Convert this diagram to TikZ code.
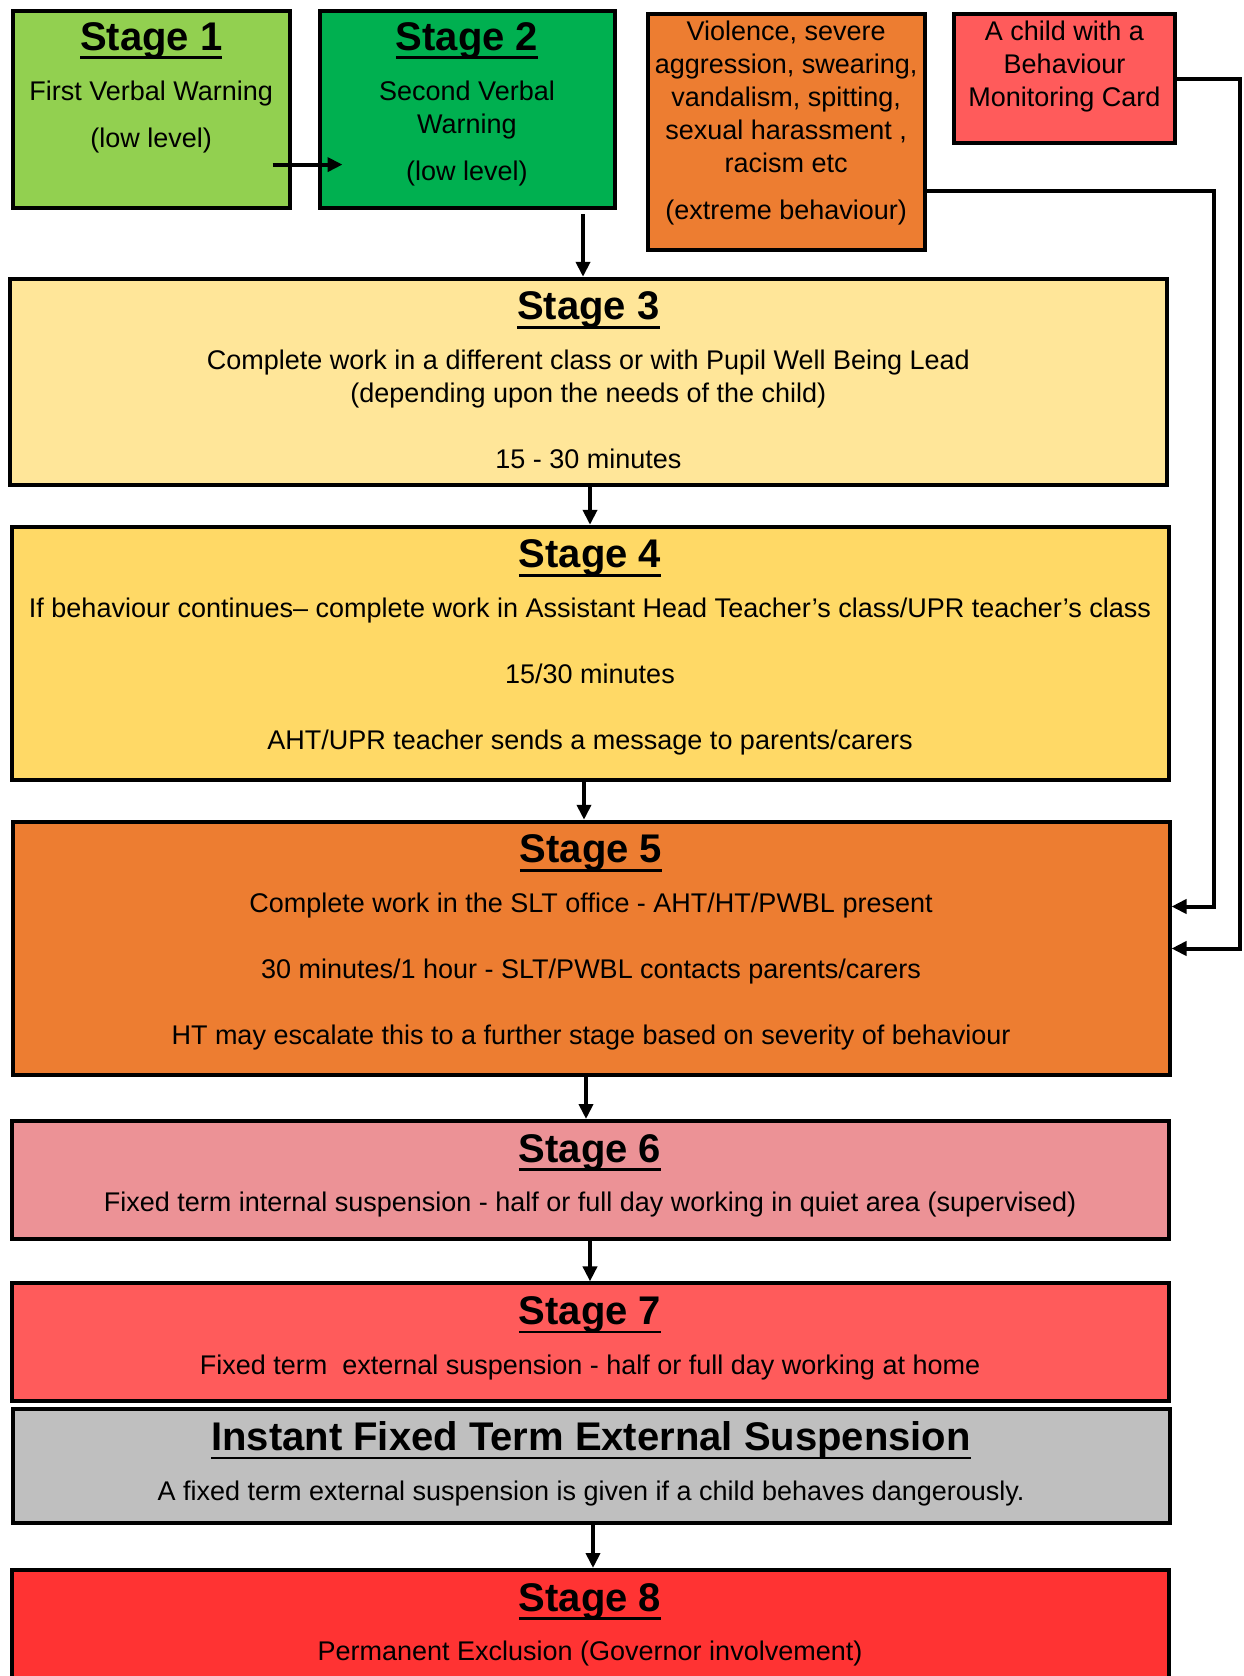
\documentclass[tikz,border=0pt]{standalone}
\usepackage{fontspec}
\setmainfont{Liberation Sans}
\usetikzlibrary{arrows.meta}

% bold underlined stage heading
\newcommand{\stagehead}[1]{\setbox0=\hbox{#1}\rlap{\rule[-9pt]{\wd0}{2.8pt}}\box0}

\begin{document}
\begin{tikzpicture}[
    x=1pt, y=-1pt,
    box/.style={draw, line width=4pt, fill=#1, inner sep=0pt},
    head/.style={font=\fontsize{40}{48}\selectfont\bfseries, anchor=base, inner sep=0pt},
    txt/.style={font=\fontsize{27}{33}\selectfont, align=center, anchor=north, inner sep=0pt},
    arr/.style={-{Triangle[length=15pt,width=14pt]}, line width=4pt},
  ]
    \useasboundingbox (0,0) rectangle (1243,1676);
    \clip (0,0) rectangle (1243,1676);

    % Colours
    \definecolor{lgreen}{HTML}{92D050}
    \definecolor{dgreen}{HTML}{00B050}
    \definecolor{orng}{HTML}{ED7D31}
    \definecolor{cardred}{HTML}{FF5B5B}
    \definecolor{lyellow}{HTML}{FFE699}
    \definecolor{dyellow}{HTML}{FFD966}
    \definecolor{pink}{HTML}{EC9296}
    \definecolor{grey}{HTML}{BFBFBF}
    \definecolor{brightred}{HTML}{FF3333}

    % Top row
    \node[box=lgreen, minimum width=277, minimum height=197] (s1) at (151.2,109.6) {};
    \node[head] (s1h) at ([yshift=-41pt]s1.north) {\stagehead{Stage 1}};
    \node[txt] (s1b) at ([yshift=-72pt]s1.north) {First Verbal Warning\\[14pt](low level)};

    \node[box=dgreen, minimum width=295, minimum height=197] (s2) at (467,109.6) {};
    \node[head] (s2h) at ([yshift=-41pt]s2.north) {\stagehead{Stage 2}};
    \node[txt] (s2b) at ([yshift=-72pt]s2.north) {Second Verbal\\Warning\\[14pt](low level)};

    \node[box=orng, minimum width=277, minimum height=236] (vio) at (786.2,132) {};
    \node[txt] (viob) at ([yshift=-9pt]vio.north) {Violence, severe\\aggression, swearing,\\vandalism, spitting,\\sexual harassment ,\\racism etc\\[14pt](extreme behaviour)};

    \node[box=cardred, minimum width=220.5, minimum height=129.6] (card) at (1064.5,78.6) {};
    \node[txt] (cardb) at ([yshift=-9pt]card.north) {A child with a\\Behaviour\\Monitoring Card};

    % Stages 3 to 8
    \node[box=lyellow, minimum width=1157, minimum height=206.6] (s3) at (588.4,382.1) {};
    \node[head] (s3h) at ([yshift=-43pt]s3.north) {\stagehead{Stage 3}};
    \node[txt] (s3b) at ([yshift=-73pt]s3.north) {Complete work in a different class or with Pupil Well Being Lead\\(depending upon the needs of the child)\\[33pt]15 - 30 minutes};

    \node[box=dyellow, minimum width=1157, minimum height=253.6] (s4) at (590,653.6) {};
    \node[head] (s4h) at ([yshift=-43pt]s4.north) {\stagehead{Stage 4}};
    \node[txt] (s4b) at ([yshift=-73pt]s4.north) {If behaviour continues– complete work in Assistant Head Teacher’s class/UPR teacher’s class\\[33pt]15/30 minutes\\[33pt]AHT/UPR teacher sends a message to parents/carers};

    \node[box=orng, minimum width=1157, minimum height=253.5] (s5) at (591,948.5) {};
    \node[head] (s5h) at ([yshift=-43pt]s5.north) {\stagehead{Stage 5}};
    \node[txt] (s5b) at ([yshift=-73pt]s5.north) {Complete work in the SLT office - AHT/HT/PWBL present\\[33pt]30 minutes/1 hour - SLT/PWBL contacts parents/carers\\[33pt]HT may escalate this to a further stage based on severity of behaviour};

    \node[box=pink, minimum width=1157, minimum height=118] (s6) at (590,1180) {};
    \node[head] (s6h) at ([yshift=-43pt]s6.north) {\stagehead{Stage 6}};
    \node[txt] (s6b) at ([yshift=-73pt]s6.north) {Fixed term internal suspension - half or full day working in quiet area (supervised)};

    \node[box=cardred, minimum width=1157, minimum height=118] (s7) at (590,1342.4) {};
    \node[head] (s7h) at ([yshift=-43pt]s7.north) {\stagehead{Stage 7}};
    \node[txt] (s7b) at ([yshift=-73pt]s7.north) {Fixed term\ \ external suspension - half or full day working at home};

    \node[box=grey, minimum width=1157, minimum height=114] (inst) at (591,1466.4) {};
    \node[head] (insth) at ([yshift=-43pt]inst.north) {\stagehead{Instant Fixed Term External Suspension}};
    \node[txt] (instb) at ([yshift=-73pt]inst.north) {A fixed term external suspension is given if a child behaves dangerously.};

    \node[box=brightred, minimum width=1157, minimum height=200] (s8) at (590,1670) {};
    \node[head] (s8h) at ([yshift=-43pt]s8.north) {\stagehead{Stage 8}};
    \node[txt] (s8b) at ([yshift=-73pt]s8.north) {Permanent Exclusion (Governor involvement)};

    % Arrows
    \draw[arr] ([xshift=-19pt,yshift=-55pt]s1.east) -- ([xshift=25pt,yshift=-55pt]s2.west);
    \draw[arr] ([xshift=116pt,yshift=-4pt]s2.south) -- ([xshift=116pt]s2.south |- s3.north);
    \draw[arr] (s4.north |- s3.south) -- (s4.north);
    \draw[arr] ([xshift=-6pt]s4.south) -- ([xshift=-6pt]s4.south |- s5.north);
    \draw[arr] ([xshift=-5pt]s5.south) -- ([xshift=-5pt]s5.south |- s6.north);
    \draw[arr] (s6.south) -- (s7.north);
    \draw[arr] ([xshift=2pt]inst.south) -- ([xshift=2pt]inst.south |- s8.north);

    % Side routes into stage 5
    \draw[arr] ([yshift=-59pt]vio.east) -| ([xshift=42pt,yshift=42pt]s5.east) -- ([yshift=42pt]s5.east);
    \draw[arr] (card.east) -| ([xshift=68pt]s5.east) -- (s5.east);
\end{tikzpicture}
\end{document}
